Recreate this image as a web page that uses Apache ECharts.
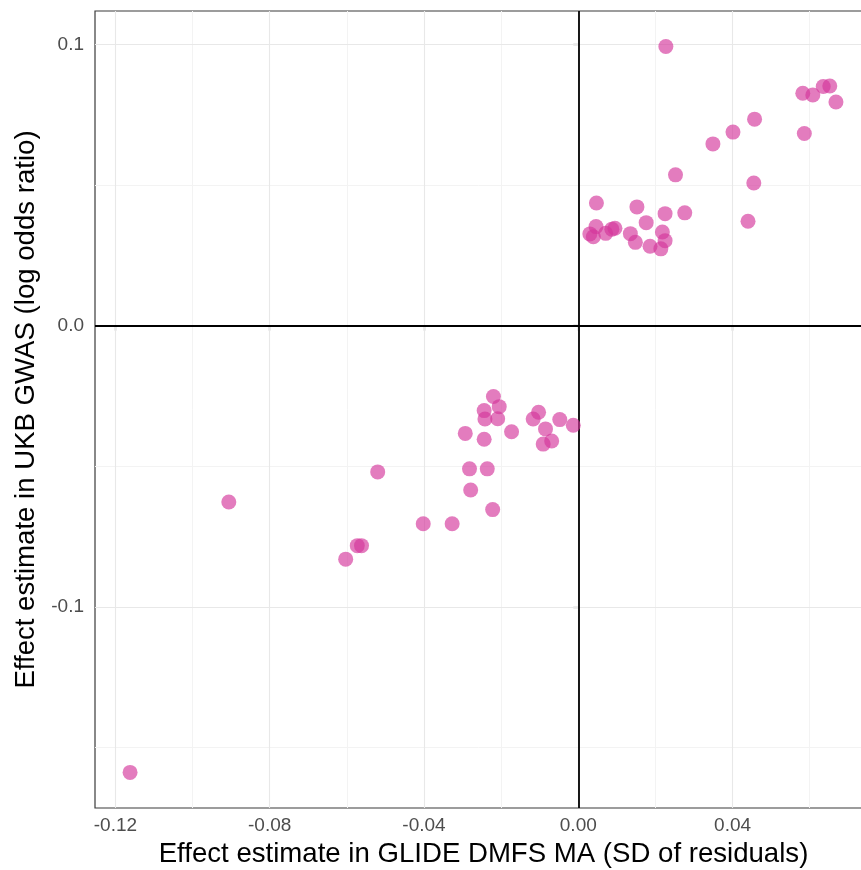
<!DOCTYPE html>
<html>
<head>
<meta charset="utf-8">
<script src="https://cdn.jsdelivr.net/npm/echarts@6/dist/echarts.min.js"></script>
<style>
  html, body { margin: 0; padding: 0; background: #ffffff; }
  #chart { width: 861px; height: 870px; }
</style>
</head>
<body>
<div id="chart"></div>
<script>
// Per-variant effect estimates: GLIDE DMFS meta-analysis vs UKB GWAS
const glideEffect = [
  0.0227, 0.0582, 0.0608, 0.0635, 0.0652, 0.0668, 0.0586, 0.0457, 0.0401, 0.0349,
  0.0252, 0.0455, 0.0440, 0.0047, 0.0152, 0.0225, 0.0276, 0.0176, 0.0135, 0.0148,
  0.0186, 0.0218, 0.0225, 0.0214, 0.0030, 0.0039, 0.0046, 0.0071, 0.0087, 0.0095,
  -0.0220, -0.0244, -0.0205, -0.0242, -0.0209, -0.0293, -0.0244, -0.0173, -0.0117, -0.0103,
  -0.0048, -0.0013, -0.0085, -0.0091, -0.0069, -0.0282, -0.0236, -0.0520, -0.0279, -0.0222,
  -0.0402, -0.0327, -0.0573, -0.0562, -0.0603, -0.0906, -0.1162
];
const ukbEffect = [
  0.0992, 0.0826, 0.0820, 0.0850, 0.0852, 0.0795, 0.0683, 0.0734, 0.0688, 0.0646,
  0.0536, 0.0507, 0.0371, 0.0436, 0.0422, 0.0398, 0.0401, 0.0366, 0.0327, 0.0296,
  0.0282, 0.0333, 0.0302, 0.0273, 0.0326, 0.0316, 0.0352, 0.0328, 0.0343, 0.0346,
  -0.0252, -0.0302, -0.0288, -0.0332, -0.0331, -0.0383, -0.0404, -0.0377, -0.0332, -0.0308,
  -0.0334, -0.0354, -0.0367, -0.0421, -0.0410, -0.0509, -0.0509, -0.0520, -0.0584, -0.0654,
  -0.0704, -0.0704, -0.0782, -0.0782, -0.0830, -0.0627, -0.1588
];

// Axis ranges and tick positions
const xRange = [-0.12529, 0.07355];
const yRange = [-0.17146, 0.11184];
const xMajorTicks = [-0.12, -0.08, -0.04, 0.00, 0.04];
const xMinorTicks = [-0.10, -0.06, -0.02, 0.02, 0.06];
const yMajorTicks = [-0.1, 0.0, 0.1];
const yMinorTicks = [-0.15, -0.05, 0.05];

const points = glideEffect.map((x, i) => [x, ukbEffect[i]]);

function gridLines(xs, ys) {
  return xs.map(v => ({ xAxis: v })).concat(ys.map(v => ({ yAxis: v })));
}

function refLineSeries(data, color, width, z) {
  return {
    type: 'scatter', data: [], silent: true, z: z,
    markLine: {
      z: z, silent: true, symbol: 'none', label: { show: false },
      lineStyle: { color: color, width: width, type: 'solid' },
      emphasis: { disabled: true },
      data: data
    }
  };
}

const chart = echarts.init(document.getElementById('chart'), null, { renderer: 'canvas' });

chart.setOption({
  animation: false,
  backgroundColor: '#ffffff',
  textStyle: { fontFamily: 'Liberation Sans, Arial, sans-serif' },
  grid: {
    left: 95, top: 11, right: -1, bottom: 62,
    outerBoundsMode: 'none',
    containLabel: false,
    show: true, borderColor: '#3a3a3a', borderWidth: 1.2, backgroundColor: '#ffffff'
  },
  xAxis: {
    type: 'value',
    min: xRange[0], max: xRange[1],
    name: 'Effect estimate in GLIDE DMFS MA (SD of residuals)',
    nameLocation: 'middle',
    nameGap: 28,
    nameTextStyle: { fontSize: 27.6, color: '#000000', padding: [0, 0, 0, 10] },
    axisLine: { show: false },
    axisTick: { show: true, length: 5, customValues: xMajorTicks, lineStyle: { color: '#3a3a3a', width: 1.2 } },
    axisLabel: {
      customValues: xMajorTicks, fontSize: 19, color: '#4d4d4d', margin: 8,
      formatter: v => v.toFixed(2)
    },
    splitLine: { show: false }
  },
  yAxis: {
    type: 'value',
    min: yRange[0], max: yRange[1],
    name: 'Effect estimate in UKB GWAS (log odds ratio)',
    nameLocation: 'middle',
    nameGap: 51,
    nameTextStyle: { fontSize: 27.6, color: '#000000' },
    axisLine: { show: false },
    axisTick: { show: true, length: 5, customValues: yMajorTicks, lineStyle: { color: '#3a3a3a', width: 1.2 } },
    axisLabel: {
      customValues: yMajorTicks, fontSize: 19, color: '#4d4d4d', margin: 11,
      formatter: v => v.toFixed(1)
    },
    splitLine: { show: false }
  },
  series: [
    refLineSeries(gridLines(xMinorTicks, yMinorTicks), '#f3f3f3', 1, 1),
    refLineSeries(gridLines(xMajorTicks, yMajorTicks), '#e8e8e8', 1.1, 2),
    // reference lines through zero
    refLineSeries([{ xAxis: 0 }, { yAxis: 0 }], '#000000', 1.8, 3),
    {
      type: 'scatter',
      z: 10,
      symbol: 'circle',
      symbolSize: 15,
      itemStyle: { color: '#d4359b', opacity: 0.65 },
      data: points
    }
  ]
});
</script>
</body>
</html>
